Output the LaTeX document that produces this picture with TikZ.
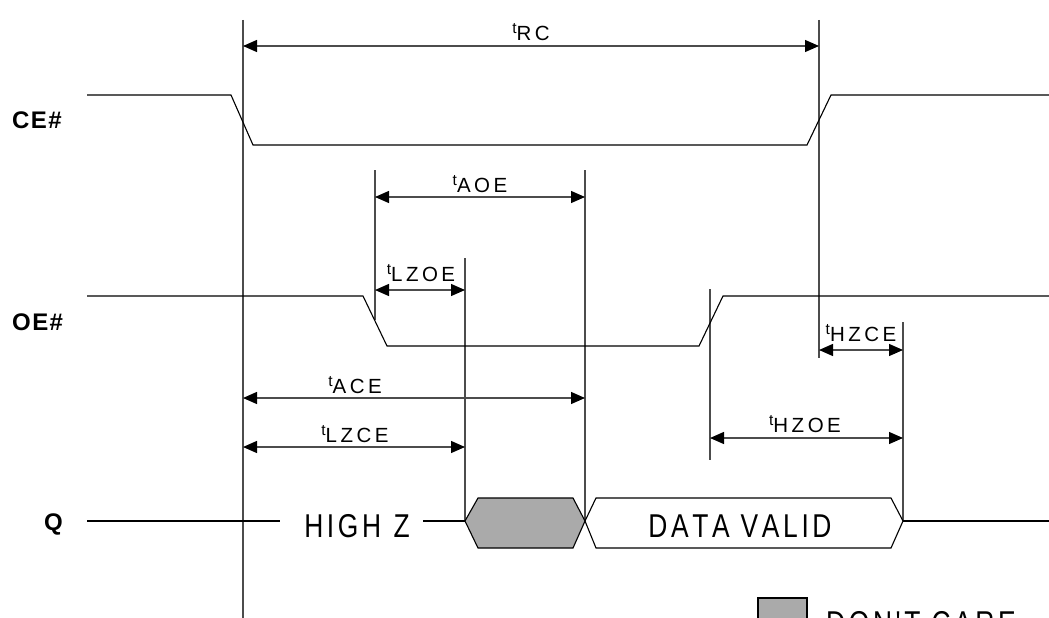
\documentclass[tikz,border=0pt]{standalone}
\usepackage{fontspec}
\setmainfont{Liberation Sans}
\newfontfamily\bigfont[FakeStretch=0.8,LetterSpace=11,Kerning=Off]{Liberation Sans}
\newfontfamily\timefont[LetterSpace=17,Kerning=Off]{Liberation Sans}
\newfontfamily\sigfont[LetterSpace=6]{Liberation Sans}
\usetikzlibrary{arrows.meta}
\definecolor{dcgray}{HTML}{AAAAAA}
\newcommand{\tlab}[1]{{\fontsize{20.5}{20.5}\timefont\raisebox{7pt}{\fontsize{15.5}{15.5}\selectfont t}#1}}
\tikzset{
  guide/.style={line width=1.3pt, draw=black!70},
  sig/.style={line width=1.1pt, draw=black, line join=miter},
  dimline/.style={line width=1.3pt, draw=black!70,
    {Triangle[length=14pt,width=12pt,color=black]}-{Triangle[length=14pt,width=12pt,color=black]}},
  tlabel/.style={anchor=base, inner sep=0pt},
  siglabel/.style={anchor=base west, inner sep=0pt, font={\fontsize{24}{24}\sigfont\bfseries}},
  biglabel/.style={anchor=base, inner sep=0pt, font={\fontsize{33}{33}\bigfont}},
}
\begin{document}
\begin{tikzpicture}[x=1pt,y=-1pt]
\useasboundingbox (0,0) rectangle (1049,618);
\clip (0,0) rectangle (1049,618);
\fill[white] (0,0) rectangle (1049,618);

% guide line end points
\coordinate (v1t) at (243,20);  \coordinate (v1b) at (243,618);
\coordinate (v2t) at (819,20);  \coordinate (v2b) at (819,358);
\coordinate (v3t) at (375,170); \coordinate (v3b) at (375,320);
\coordinate (v4t) at (465,258); \coordinate (v4b) at (465,521);
\coordinate (v5t) at (585,170); \coordinate (v5b) at (585,521);
\coordinate (v6t) at (710,289); \coordinate (v6b) at (710,460);
\coordinate (v7t) at (903,322); \coordinate (v7b) at (903,521);

\draw[guide] (v1t) -- (v1b);
\draw[guide] (v2t) -- (v2b);
\draw[guide] (v3t) -- (v3b);
\draw[guide] (v4t) -- (v4b);
\draw[guide] (v5t) -- (v5b);
\draw[guide] (v6t) -- (v6b);
\draw[guide] (v7t) -- (v7b);

% signals
\draw[sig] (87,95) -- (231,95) -- (253,145) -- (807,145) -- (831,95) -- (1049,95);
\draw[sig] (87,296) -- (363,296) -- (387,346) -- (699,346) -- (723,296) -- (1049,296);
\draw[sig] (87,521) -- (280,521);
\draw[sig] (423,521) -- (465,521);
\draw[sig, fill=dcgray] (465,521) -- (478,498) -- (573,498) -- (585,521) -- (573,548) -- (478,548) -- cycle;
\draw[sig] (585,521) -- (596,498) -- (891,498) -- (903,521) -- (891,548) -- (596,548) -- cycle;
\draw[sig] (903,521) -- (1049,521);

% dimension arrows
\coordinate (rcL) at (243,46);  \coordinate (rcR) at (819,46);
\coordinate (aoeL) at (375,197); \coordinate (aoeR) at (585,197);
\coordinate (lzoeL) at (375,290); \coordinate (lzoeR) at (465,290);
\coordinate (hzceL) at (819,350); \coordinate (hzceR) at (903,350);
\coordinate (aceL) at (243,398); \coordinate (aceR) at (585,398);
\coordinate (lzceL) at (243,447); \coordinate (lzceR) at (465,447);
\coordinate (hzoeL) at (710,438); \coordinate (hzoeR) at (903,438);

\draw[dimline] (rcL) -- (rcR);
\draw[dimline] (aoeL) -- (aoeR);
\draw[dimline] (lzoeL) -- (lzoeR);
\draw[dimline] (hzceL) -- (hzceR);
\draw[dimline] (aceL) -- (aceR);
\draw[dimline] (lzceL) -- (lzceR);
\draw[dimline] (hzoeL) -- (hzoeR);

\node[tlabel] (lrc) at (531,41) {\tlab{RC}};
\node[tlabel] (laoe) at (480,192) {\tlab{AOE}};
\node[tlabel] (llzoe) at (421,281) {\tlab{LZOE}};
\node[tlabel] (lhzce) at (861,341) {\tlab{HZCE}};
\node[tlabel] (lace) at (355,393) {\tlab{ACE}};
\node[tlabel] (llzce) at (355,442) {\tlab{LZCE}};
\node[tlabel] (lhzoe) at (805,432) {\tlab{HZOE}};

% signal names
\node[siglabel] (ce) at (12,128.5) {CE\#};
\node[siglabel] (oe) at (12,330) {OE\#};
\node[siglabel] (q) at (44,530) {Q};

% bus labels
\node[biglabel] (hz) at (357,537) {HIGH\hspace{1.5pt} Z};
\node[biglabel] (dv) at (740,537) {DATA VALID};

% legend
\draw[sig, fill=dcgray] (758,598) rectangle (807,640);
\node[biglabel, anchor=base west] (dc) at (826,634) {DON'T CARE};
\end{tikzpicture}
\end{document}
